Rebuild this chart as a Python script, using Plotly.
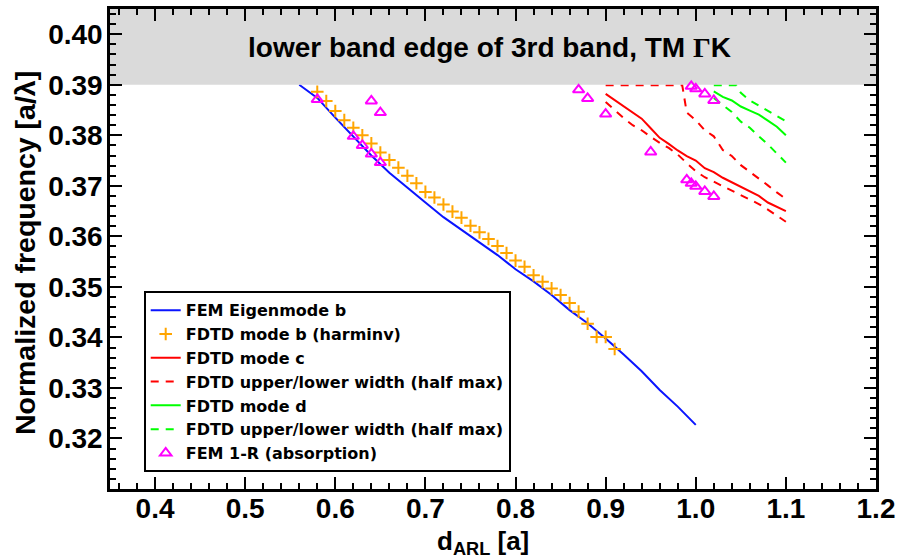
import plotly.graph_objects as go

# ---------------- data ----------------
fem_b_d = [0.56, 0.58, 0.60, 0.62, 0.64, 0.66, 0.68, 0.70, 0.72, 0.74, 0.76, 0.78,
           0.80, 0.82, 0.84, 0.86, 0.88, 0.90, 0.92, 0.94, 0.96, 0.98, 1.00]
fem_b_f = [0.3900, 0.3874, 0.3835, 0.3798, 0.3760, 0.3726, 0.3696, 0.3667, 0.3638, 0.3613,
           0.3588, 0.3563, 0.3535, 0.3511, 0.3484, 0.3454, 0.3428, 0.3398, 0.3366, 0.3333,
           0.3296, 0.3263, 0.3227]

harm_d = [0.58, 0.59, 0.60, 0.61, 0.62, 0.63, 0.64, 0.65, 0.66, 0.67, 0.68, 0.69,
          0.70, 0.71, 0.72, 0.73, 0.74, 0.75, 0.76, 0.77, 0.78, 0.79, 0.80, 0.81,
          0.82, 0.83, 0.84, 0.85, 0.86, 0.87, 0.88, 0.89, 0.90, 0.91]
harm_f = [0.3886, 0.3868, 0.3848, 0.3830, 0.3815, 0.3800, 0.3784, 0.3766, 0.3751, 0.3736,
          0.3720, 0.3705, 0.3688, 0.3677, 0.3663, 0.3649, 0.3637, 0.3621, 0.3608, 0.3595,
          0.3581, 0.3567, 0.3552, 0.3540, 0.3523, 0.3510, 0.3497, 0.3484, 0.3468, 0.3451,
          0.3427, 0.3401, 0.3401, 0.3377]

mode_c_d = [0.90, 0.91, 0.92, 0.93, 0.94, 0.95, 0.96, 0.97, 0.98, 0.99, 1.00,
            1.01, 1.02, 1.03, 1.04, 1.05, 1.06, 1.07, 1.08, 1.09, 1.10]
mode_c_f = [0.3882, 0.3870, 0.3857, 0.3845, 0.3833, 0.3814, 0.3795, 0.3783, 0.3770, 0.3759, 0.3750,
            0.3735, 0.3727, 0.3716, 0.3707, 0.3698, 0.3689, 0.3680, 0.3667, 0.3658, 0.3650]
mode_c_low_f = [0.3866, 0.3850, 0.3834, 0.3820, 0.3810, 0.3797, 0.3785, 0.3775, 0.3762, 0.3745, 0.3729,
                0.3717, 0.3708, 0.3700, 0.3690, 0.3681, 0.3672, 0.3664, 0.3653, 0.3641, 0.3629]
mode_c_up_d = [0.90, 0.92, 0.94, 0.96, 0.98, 0.985, 0.99, 1.00, 1.01, 1.02, 1.03,
               1.04, 1.05, 1.06, 1.07, 1.08, 1.09, 1.10]
mode_c_up_f = [0.3899, 0.3899, 0.3899, 0.3899, 0.3899, 0.3899, 0.3845, 0.3830, 0.3810, 0.3798, 0.3771,
               0.3759, 0.3741, 0.3728, 0.3714, 0.3701, 0.3687, 0.3674]

mode_d_d = [1.02, 1.03, 1.04, 1.05, 1.06, 1.07, 1.08, 1.09, 1.10]
mode_d_f = [0.3887, 0.3876, 0.3869, 0.3857, 0.3849, 0.3841, 0.3829, 0.3817, 0.3800]
mode_d_low_f = [0.3874, 0.3860, 0.3846, 0.3827, 0.3815, 0.3798, 0.3782, 0.3764, 0.3746]
mode_d_up_d = [1.02, 1.03, 1.04, 1.045, 1.05, 1.06, 1.07, 1.08, 1.09, 1.10]
mode_d_up_f = [0.3899, 0.3899, 0.3899, 0.3899, 0.3884, 0.3869, 0.3859, 0.3849, 0.3838, 0.3828]

absorb_d = [0.58, 0.62, 0.63, 0.64, 0.64, 0.65, 0.65, 0.87, 0.88, 0.90, 0.95,
            0.99, 0.995, 0.995, 1.00, 1.00, 1.01, 1.01, 1.02, 1.02]
absorb_f = [0.3871, 0.3798, 0.3780, 0.3868, 0.3763, 0.3845, 0.3746, 0.3890, 0.3873, 0.3842, 0.3767,
            0.3712, 0.3897, 0.3705, 0.3892, 0.3699, 0.3882, 0.3689, 0.3869, 0.3679]

band_edge = 0.39
x_range = [0.35, 1.2]
y_range = [0.31, 0.405]
x_ticks = [0.4, 0.5, 0.6, 0.7, 0.8, 0.9, 1.0, 1.1, 1.2]
y_ticks = [0.32, 0.33, 0.34, 0.35, 0.36, 0.37, 0.38, 0.39, 0.40]

FONT = "Liberation Sans, Arial, Helvetica, sans-serif"
LEGFONT = "DejaVu Sans, Liberation Sans, sans-serif"
DASH = "8px,7px"

fig = go.Figure()
fig.add_trace(go.Scatter(x=fem_b_d, y=fem_b_f, mode="lines", name="FEM Eigenmode b",
                         line=dict(color="#0a14ff", width=2)))
fig.add_trace(go.Scatter(x=harm_d, y=harm_f, mode="markers", name="FDTD mode b (harminv)",
                         marker=dict(symbol="cross-thin", size=9, color="#ffa500",
                                     line=dict(color="#ffa500", width=2))))
fig.add_trace(go.Scatter(x=mode_c_d, y=mode_c_f, mode="lines", name="FDTD mode c",
                         line=dict(color="#ff0000", width=2)))
fig.add_trace(go.Scatter(x=mode_c_d, y=mode_c_low_f, mode="lines",
                         name="FDTD upper/lower width (half max)", legendgroup="c",
                         line=dict(color="#ff0000", width=2, dash=DASH)))
fig.add_trace(go.Scatter(x=mode_c_up_d, y=mode_c_up_f, mode="lines", showlegend=False, legendgroup="c",
                         line=dict(color="#ff0000", width=2, dash=DASH)))
fig.add_trace(go.Scatter(x=mode_d_d, y=mode_d_f, mode="lines", name="FDTD mode d",
                         line=dict(color="#00ff00", width=2)))
fig.add_trace(go.Scatter(x=mode_d_d, y=mode_d_low_f, mode="lines",
                         name="FDTD upper/lower width (half max)", legendgroup="d",
                         line=dict(color="#00ff00", width=2, dash=DASH)))
fig.add_trace(go.Scatter(x=mode_d_up_d, y=mode_d_up_f, mode="lines", showlegend=False, legendgroup="d",
                         line=dict(color="#00ff00", width=2, dash=DASH)))
# grey band above the band edge (drawn over the lines)
fig.add_trace(go.Scatter(x=[x_range[0], x_range[1], x_range[1], x_range[0], x_range[0]],
                         y=[band_edge, band_edge, y_range[1], y_range[1], band_edge],
                         mode="lines", fill="toself", fillcolor="#dadada",
                         line=dict(width=0, color="#dadada"), showlegend=False, hoverinfo="skip"))
fig.add_trace(go.Scatter(x=absorb_d, y=absorb_f, mode="markers", name="FEM 1-R (absorption)",
                         marker=dict(symbol="triangle-up-open", size=10, color="#ff00ff",
                                     line=dict(color="#ff00ff", width=2))))

axis_common = dict(showline=True, linecolor="black", linewidth=2.5, mirror="allticks",
                   ticks="inside", ticklen=12, tickwidth=2, tickcolor="black",
                   showgrid=False, zeroline=False,
                   tickfont=dict(family=FONT, size=28, color="black", weight="bold"))

fig.update_xaxes(range=x_range, tickvals=x_ticks, ticktext=[f"{v:.1f}" for v in x_ticks],
                 ticklabelstandoff=-7,
                 minor=dict(dtick=0.02, tick0=0.4, ticks="inside", ticklen=6, tickwidth=2,
                            tickcolor="black"),
                 **axis_common)
fig.update_yaxes(range=y_range, tickvals=y_ticks, ticktext=[f"{v:.2f}" for v in y_ticks],
                 ticklabelstandoff=-1,
                 minor=dict(dtick=0.002, tick0=0.32, ticks="inside", ticklen=6, tickwidth=2,
                            tickcolor="black"),
                 **axis_common)

fig.add_annotation(text="lower band edge of 3rd band, TM <span style='font-family:Liberation Serif'>Γ</span>K",
                   xref="paper", yref="y", x=0.496, y=0.3973, showarrow=False,
                   font=dict(family=FONT, size=28, color="black", weight="bold"))
fig.add_annotation(text="Normalized frequency [a/λ]", textangle=-90,
                   xref="paper", yref="paper", x=-0.11, y=0.491, showarrow=False,
                   xanchor="center", yanchor="middle",
                   font=dict(family=FONT, size=28.5, color="black", weight="bold"))
fig.add_annotation(text="d<sub>ARL</sub> [a]",
                   xref="paper", yref="paper", x=0.487, y=-0.112, showarrow=False,
                   xanchor="center", yanchor="middle",
                   font=dict(family=FONT, size=26, color="black", weight="bold"))

fig.update_layout(
    width=901, height=559,
    margin=dict(l=110, r=23, t=6, b=70),
    paper_bgcolor="white", plot_bgcolor="white",
    showlegend=True,
    legend=dict(x=0.044, y=0.412, xanchor="left", yanchor="top",
                bgcolor="white", bordercolor="black", borderwidth=2,
                font=dict(family=LEGFONT, size=16, color="black", weight="bold"),
                tracegroupgap=0, itemwidth=30),
)

fig.write_html("out.html", config={"displayModeBar": False},
               post_script="document.body.style.margin='0';")
